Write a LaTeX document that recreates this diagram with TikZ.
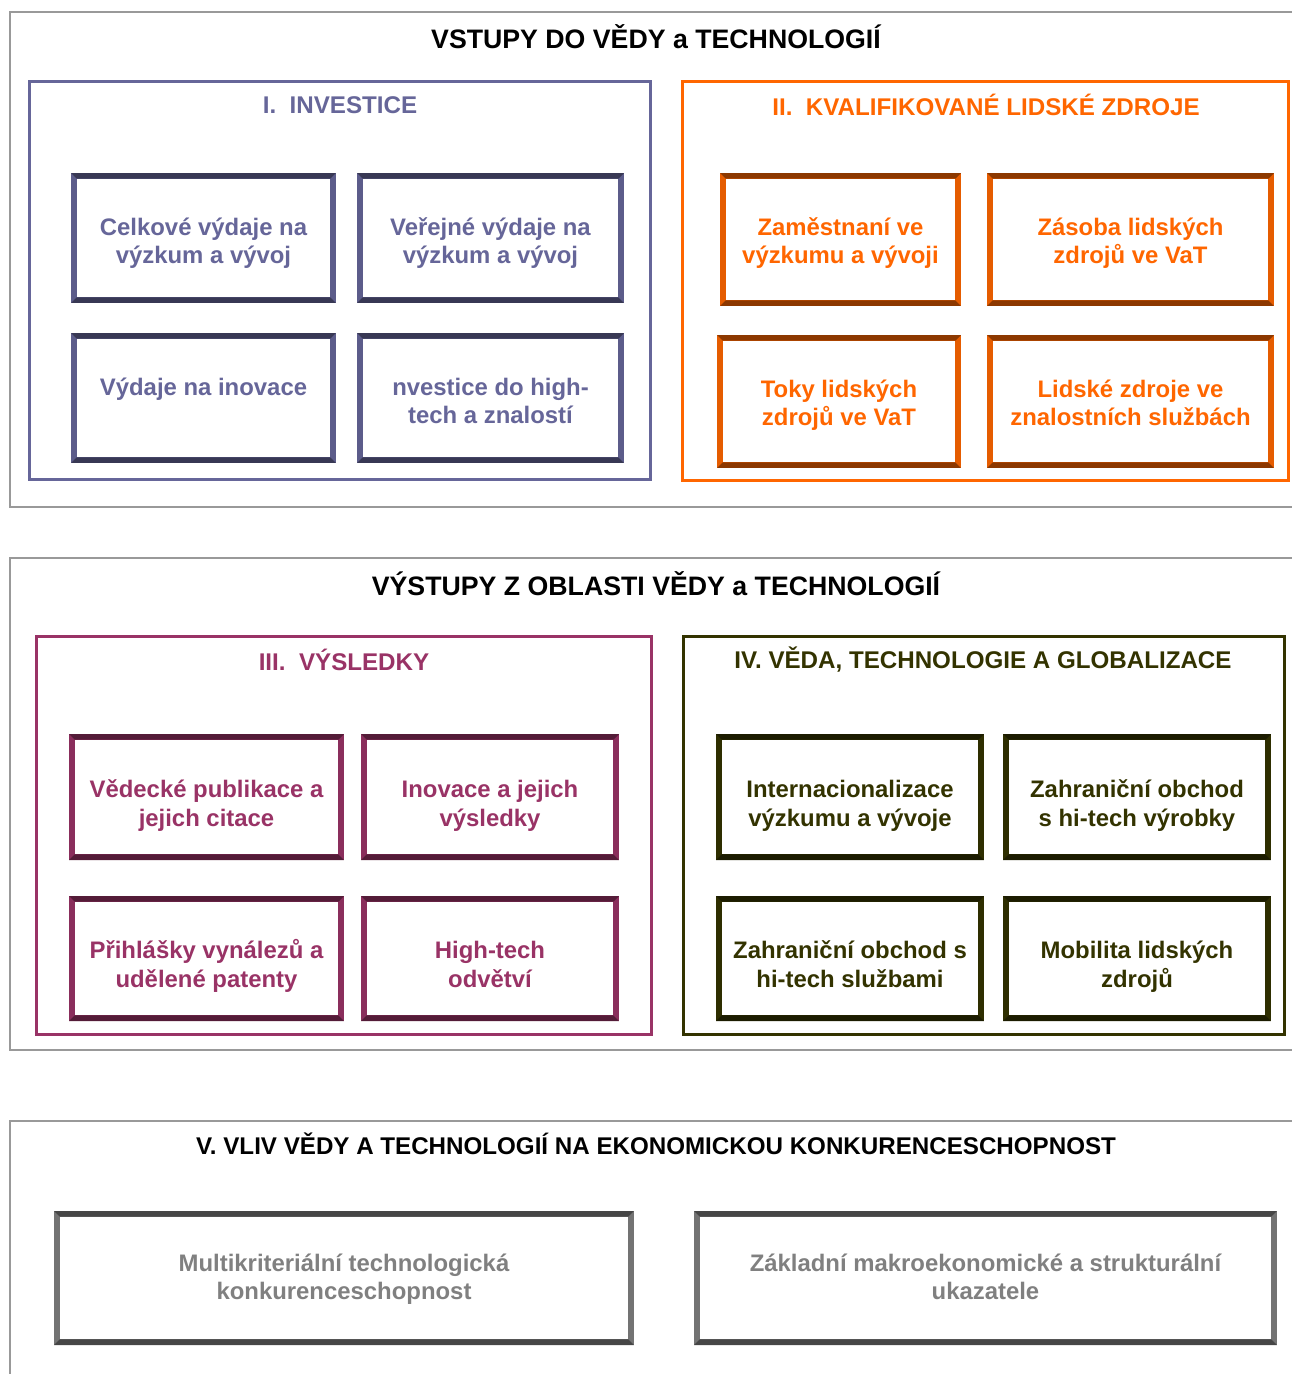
\documentclass[tikz,border=0pt]{standalone}
\usepackage{fontspec}
\setmainfont{Liberation Sans}
\usetikzlibrary{positioning}
\definecolor{invest}{HTML}{666699}
\definecolor{people}{HTML}{FF6600}
\definecolor{results}{HTML}{993366}
\definecolor{global}{HTML}{333300}
\definecolor{impact}{HTML}{808080}
\definecolor{frame}{HTML}{999999}

\tikzset{
  panel/.style={draw=frame,line width=1.1pt,minimum width=25.8cm},
  group/.style={draw=#1,line width=1.7pt,minimum height=7.98cm},
  heading/.style={font=\bfseries\fontsize{15.2}{18}\selectfont},
  caption/.style={text=#1,font=\bfseries\fontsize{13.75}{16}\selectfont},
  tile/.style={fill=#1!90!black,text=#1,align=center,inner sep=0pt,
    text depth=0pt,text height=29.4pt,
    font=\bfseries\fontsize{13.6}{16.4}\selectfont,
    path picture={
      \fill[#1!55!black] (path picture bounding box.north west)
        -- (path picture bounding box.north east)
        -- ([shift={(-3.2pt,-3.2pt)}]path picture bounding box.north east)
        -- ([shift={(3.2pt,-3.2pt)}]path picture bounding box.north west) -- cycle;
      \fill[#1!55!black] (path picture bounding box.south west)
        -- (path picture bounding box.south east)
        -- ([shift={(-3.2pt,3.2pt)}]path picture bounding box.south east)
        -- ([shift={(3.2pt,3.2pt)}]path picture bounding box.south west) -- cycle;
      \fill[white] ([shift={(3.2pt,-3.2pt)}]path picture bounding box.north west)
        rectangle ([shift={(-3.2pt,3.2pt)}]path picture bounding box.south east);
    }},
  invtile/.style={tile=invest,text height=29.4pt},
  hrtile/.style={tile=people,text height=27.7pt},
  restile/.style={tile=results,text height=33.3pt},
  glotile/.style={tile=global,text height=33.3pt},
  imptile/.style={tile=impact,text height=25pt},
}

\begin{document}
\begin{tikzpicture}[x=0.02cm,y=-0.02cm]
\useasboundingbox (0,0) rectangle (1292,1374);

% inputs
\node[panel,minimum height=9.9cm] (inputs) at (655,259.5) {};
\node[heading] (inputsT) at (656,37) {VSTUPY DO VĚDY a TECHNOLOGIÍ};

\node[group=invest,minimum width=12.44cm] (inv) at (340,280.5) {};
\node[caption=invest] (invT) at (340,105) {I.~~INVESTICE};
\node[invtile,minimum width=5.3cm,minimum height=2.6cm] (inv1) at (203.5,238) {Celkové výdaje na\\výzkum a vývoj};
\node[invtile,minimum width=5.34cm,minimum height=2.6cm] (inv2) at (490.5,238) {Veřejné výdaje na\\výzkum a vývoj};
\node[invtile,minimum width=5.3cm,minimum height=2.6cm] (inv3) at (203.5,398) {Výdaje na inovace\\\mbox{}};
\node[invtile,minimum width=5.34cm,minimum height=2.6cm] (inv4) at (490.5,398) {nvestice do high-\\tech a znalostí};

\node[group=people,minimum width=12.14cm] (hr) at (985.5,281) {};
\node[caption=people] (hrT) at (986,105) {II.~~KVALIFIKOVANÉ LIDSKÉ ZDROJE};
\node[hrtile,minimum width=4.82cm,minimum height=2.66cm] (hr1) at (840.5,239.5) {Zaměstnaní ve\\výzkumu a vývoji};
\node[hrtile,minimum width=5.74cm,minimum height=2.66cm] (hr2) at (1130.5,239.5) {Zásoba lidských\\zdrojů ve VaT};
\node[hrtile,minimum width=4.88cm,minimum height=2.66cm] (hr3) at (839,401.5) {Toky lidských\\zdrojů ve VaT};
\node[hrtile,minimum width=5.74cm,minimum height=2.66cm] (hr4) at (1130.5,401.5) {Lidské zdroje ve\\znalostních službách};

% outputs
\node[panel,minimum height=9.84cm] (outputs) at (655,804) {};
\node[heading] (outputsT) at (656,584) {VÝSTUPY Z OBLASTI VĚDY a TECHNOLOGIÍ};

\node[group=results,minimum width=12.32cm] (res) at (344,835.5) {};
\node[caption=results] (resT) at (344,660) {III.~~VÝSLEDKY};
\node[restile,minimum width=5.5cm,minimum height=2.52cm] (res1) at (206.5,797) {Vědecké publikace a\\jejich citace};
\node[restile,minimum width=5.16cm,minimum height=2.52cm] (res2) at (490,797) {Inovace a jejich\\výsledky};
\node[restile,minimum width=5.5cm,minimum height=2.5cm] (res3) at (206.5,958.5) {Přihlášky vynálezů a\\udělené patenty};
\node[restile,minimum width=5.16cm,minimum height=2.5cm] (res4) at (490,958.5) {High-tech\\odvětví};

\node[group=global,minimum width=12.04cm] (glo) at (984,835.5) {};
\node[caption=global] (gloT) at (983,660) {IV. VĚDA, TECHNOLOGIE A GLOBALIZACE};
\node[glotile,minimum width=5.36cm,minimum height=2.52cm] (glo1) at (850,797) {Internacionalizace\\výzkumu a vývoje};
\node[glotile,minimum width=5.36cm,minimum height=2.52cm] (glo2) at (1137,797) {Zahraniční obchod\\s hi-tech výrobky};
\node[glotile,minimum width=5.36cm,minimum height=2.5cm] (glo3) at (850,958.5) {Zahraniční obchod s\\hi-tech službami};
\node[glotile,minimum width=5.36cm,minimum height=2.5cm] (glo4) at (1137,958.5) {Mobilita lidských\\zdrojů};

% impact
\node[panel,minimum height=5.38cm] (impactP) at (655,1255.5) {};
\node[caption=black] (impactT) at (656,1144) {V. VLIV VĚDY A TECHNOLOGIÍ NA EKONOMICKOU KONKURENCESCHOPNOST};
\node[imptile,minimum width=11.6cm,minimum height=2.68cm] (imp1) at (344,1278) {Multikriteriální technologická\\konkurenceschopnost};
\node[imptile,minimum width=11.66cm,minimum height=2.68cm] (imp2) at (985.5,1278) {Základní makroekonomické a strukturální\\ukazatele};
\end{tikzpicture}
\end{document}
